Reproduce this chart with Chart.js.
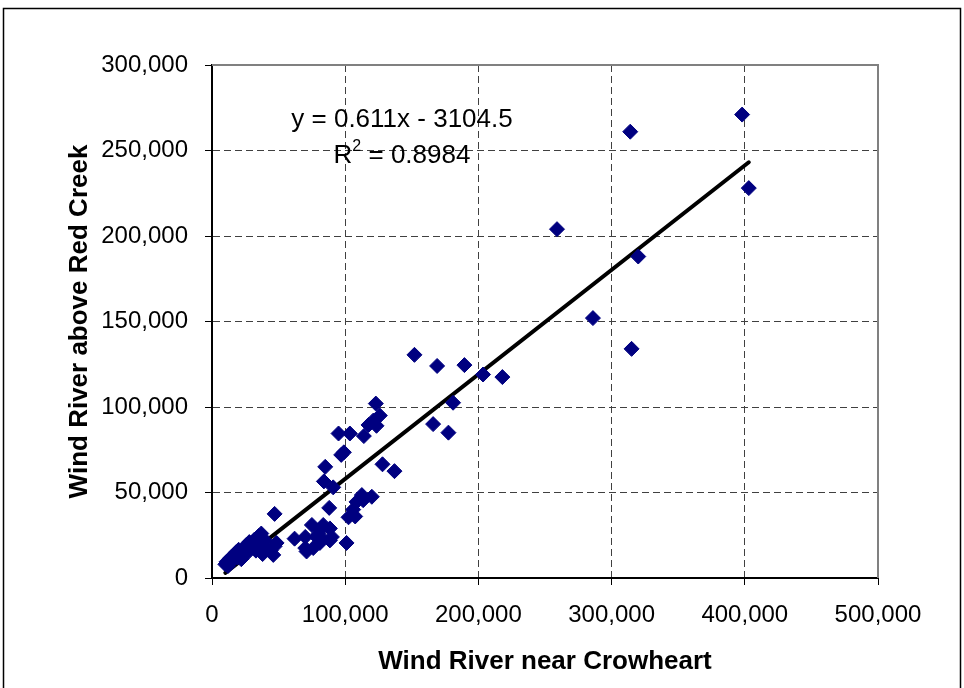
<!DOCTYPE html>
<html><head><meta charset="utf-8">
<script src="https://cdn.jsdelivr.net/npm/chart.js@4.4.0/dist/chart.umd.min.js"></script>
<style>html,body{margin:0;padding:0;background:#fff}#wrap{width:964px;height:688px;position:relative}</style>
</head><body><div id="wrap"><canvas id="c" width="964" height="688"></canvas></div>
<script>
// Wind River near Crowheart (x) vs Wind River above Red Creek (y)
const xValues = [
  10000,11000,12000,13500,15000,16000,18000,19000,20000,22000,23000,24500,26000,27000,28000,30000,32000,33000,35000,36000,37000,38000,40000,42000,44000,46000,47000,48500,47000,62000,
  70000,70000,71000,76000,75000,78500,80000,81000,81000,82500,83500,88500,88500,90000,88000,101000,102500,106000,107500,108500,112500,113500,120000,
  84000,91000,85000,97000,99000,95000,103500,114000,117500,121000,123500,126000,123000,128000,137000,
  152000,169000,189500,203500,218000,181000,166000,177500,
  398000,314000,403000,259000,320000,286000,315000
];
const yValues = [
  8000,9500,7000,11500,10000,13000,15000,12000,16500,11000,14000,17500,19500,15000,21000,18000,22500,16000,24500,20000,26000,14000,22000,17000,16000,13500,18500,20500,37500,23000,
  24000,17500,15500,17500,31000,24000,26000,28000,20500,23000,31000,29000,22000,24000,41000,20500,35500,40000,36000,44500,48500,45500,47500,
  56500,53000,65000,72000,73500,84500,84500,83000,89500,92000,89000,95000,102000,66500,62500,
  130500,124000,124500,119000,117500,102500,90000,85000,
  271000,261000,228000,204000,188000,152000,134000
];
const xTickValues = [0,100000,200000,300000,400000,500000];
const yTickValues = [0,50000,100000,150000,200000,250000,300000];
const xTitle = 'Wind River near Crowheart';
const yTitle = 'Wind River above Red Creek';
const trendSlope = 0.611;
const trendIntercept = -3104.5;
const rSquared = 0.8984;

const points = xValues.map((x,i)=>({x:x, y:yValues[i]}));
const xMin = Math.min(...xValues), xMax = Math.max(...xValues);
const trendPts = [xMin, xMax].map(x=>({x:x, y:trendSlope*x + trendIntercept}));

Chart.defaults.font.family = '"Liberation Sans", Arial, sans-serif';
Chart.defaults.color = '#000';

const fmt = v => Number(v).toLocaleString('en-US');
const FONT = '"Liberation Sans", Arial, sans-serif';

const decor = {
  id:'decor',
  afterDraw(chart){
    const ctx = chart.ctx, a = chart.chartArea;
    ctx.save();
    // plot area border (top/right grey)
    ctx.strokeStyle = '#808080';
    ctx.lineWidth = 2;
    ctx.beginPath();
    ctx.moveTo(a.left, a.top); ctx.lineTo(a.right, a.top); ctx.lineTo(a.right, a.bottom);
    ctx.stroke();
    // outer chart border
    ctx.strokeStyle = '#000';
    ctx.lineWidth = 1.5;
    ctx.strokeRect(3.5, 8.5, 957, 700);
    // regression text
    ctx.fillStyle = '#000';
    ctx.textBaseline = 'middle';
    ctx.font = '26px ' + FONT;
    const eq = 'y = ' + trendSlope + 'x - ' + Math.abs(trendIntercept);
    ctx.textAlign = 'center';
    const cx = 402;
    ctx.fillText(eq, cx, 120);
    const p1 = 'R', p2 = '2', p3 = ' = ' + rSquared;
    const w1 = ctx.measureText(p1).width, w3 = ctx.measureText(p3).width;
    ctx.font = '16px ' + FONT;
    const w2 = ctx.measureText(p2).width;
    let x0 = cx - (w1+w2+w3)/2;
    ctx.textAlign = 'left';
    ctx.font = '26px ' + FONT;
    ctx.fillText(p1, x0, 156);
    ctx.font = '16px ' + FONT;
    ctx.fillText(p2, x0 + w1, 147);
    ctx.font = '26px ' + FONT;
    ctx.fillText(p3, x0 + w1 + w2, 156);
    ctx.restore();
  }
};

new Chart(document.getElementById('c'), {
  type:'scatter',
  data:{datasets:[
    {label:'Data', data:points, pointStyle:'rectRot', pointRadius:7.5, pointHoverRadius:7.5,
     backgroundColor:'#000080', borderColor:'#000080', borderWidth:1},
    {label:'Linear', type:'line', data:trendPts, borderColor:'#000', borderWidth:4,
     pointRadius:0, showLine:true, fill:false, borderCapStyle:'round'}
  ]},
  options:{
    responsive:false, animation:false, devicePixelRatio:1,
    layout:{padding:{left:0, top:65, right:86, bottom:0}},
    plugins:{legend:{display:false}, tooltip:{enabled:false}},
    scales:{
      x:{type:'linear', min:0, max:500000,
        afterBuildTicks(s){ s.ticks = xTickValues.map(v=>({value:v})); },
        afterFit(s){ s.height = 110; },
        ticks:{callback:fmt, font:{size:24}, padding:16, maxRotation:0, autoSkip:false},
        grid:{color:'#404040', lineWidth:1, tickColor:'#000', tickLength:7, tickWidth:1},
        border:{display:true, color:'#000', width:2, dash:[7,4]},
        title:{display:true, text:xTitle, font:{size:26, weight:'bold'}, padding:{top:0,bottom:11}}
      },
      y:{type:'linear', min:0, max:300000,
        afterBuildTicks(s){ s.ticks = yTickValues.map(v=>({value:v})); },
        afterFit(s){ s.width = 212; },
        ticks:{callback:fmt, font:{size:24}, padding:17},
        grid:{color:'#404040', lineWidth:1, tickColor:'#000', tickLength:7, tickWidth:1},
        border:{display:true, color:'#000', width:2, dash:[7,4]},
        title:{display:true, text:yTitle, font:{size:26, weight:'bold'}, padding:{top:64,bottom:0}}
      }
    }
  },
  plugins:[decor]
});
</script></body></html>
